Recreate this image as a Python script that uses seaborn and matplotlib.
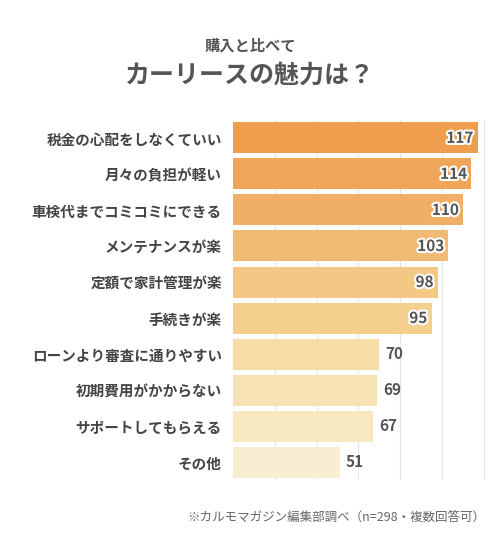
import matplotlib
matplotlib.use("Agg")
import matplotlib.pyplot as plt
import matplotlib.patheffects as pe
import seaborn as sns
import pandas as pd
import numpy as np

reasons = ['税金の心配をしなくていい', '月々の負担が軽い', '車検代までコミコミにできる',
           'メンテナンスが楽', '定額で家計管理が楽', '手続きが楽',
           'ローンより審査に通りやすい', '初期費用がかからない', 'サポートしてもらえる', 'その他']
counts = [117, 114, 110, 103, 98, 95, 70, 69, 67, 51]
colors = ['#EE9E4C', '#EFA65A', '#F0AF66', '#F1BA74', '#F3C784', '#F4D08F',
          '#F6DDA5', '#F7E3B2', '#F8E8BF', '#F9EDD2']

sns.set_theme(style="white")
plt.rcParams['font.family'] = ['Noto Sans CJK JP', 'DejaVu Sans']

df = pd.DataFrame({'reason': reasons, 'count': counts})

fig = plt.figure(figsize=(5, 5.5), dpi=100)
ax = fig.add_axes([0.466, 0.127, 0.51, 0.655])
sns.barplot(data=df, y='reason', x='count', hue='reason', palette=colors,
            legend=False, ax=ax, width=0.86, saturation=1)
for p in ax.patches:
    p.set_edgecolor('none')

ax.set_xlim(0, 122)
ax.set_xticks(np.arange(20, 121, 20))
ax.xaxis.grid(True, color='#E6E6E6', linewidth=0.8)
ax.set_axisbelow(True)
ax.tick_params(axis='x', labelbottom=False, length=0)
ax.tick_params(axis='y', length=0, pad=8, labelsize=10.5, labelcolor='#444444')
for lab in ax.get_yticklabels():
    lab.set_fontweight('bold')
ax.set_xlabel('')
ax.set_ylabel('')
for s in ax.spines.values():
    s.set_visible(False)

for i, v in enumerate(counts):
    if v >= 90:
        ax.text(v - 2, i, str(v), ha='right', va='center', fontsize=11, fontweight='bold',
                color='#555555', path_effects=[pe.withStroke(linewidth=3, foreground='white')])
    else:
        ax.text(v + 3, i, str(v), ha='left', va='center', fontsize=11, fontweight='bold',
                color='#555555')

fig.text(0.5, 0.918, '購入と比べて', ha='center', va='center', fontsize=11,
         fontweight='bold', color='#555555')
fig.text(0.5, 0.862, 'カーリースの魅力は？', ha='center', va='center', fontsize=18,
         fontweight='bold', color='#555555')
fig.text(0.97, 0.06, '※カルモマガジン編集部調べ（n=298・複数回答可）', ha='right', va='center',
         fontsize=9, color='#666666')

fig.savefig('out.png', dpi=100, facecolor='white')
